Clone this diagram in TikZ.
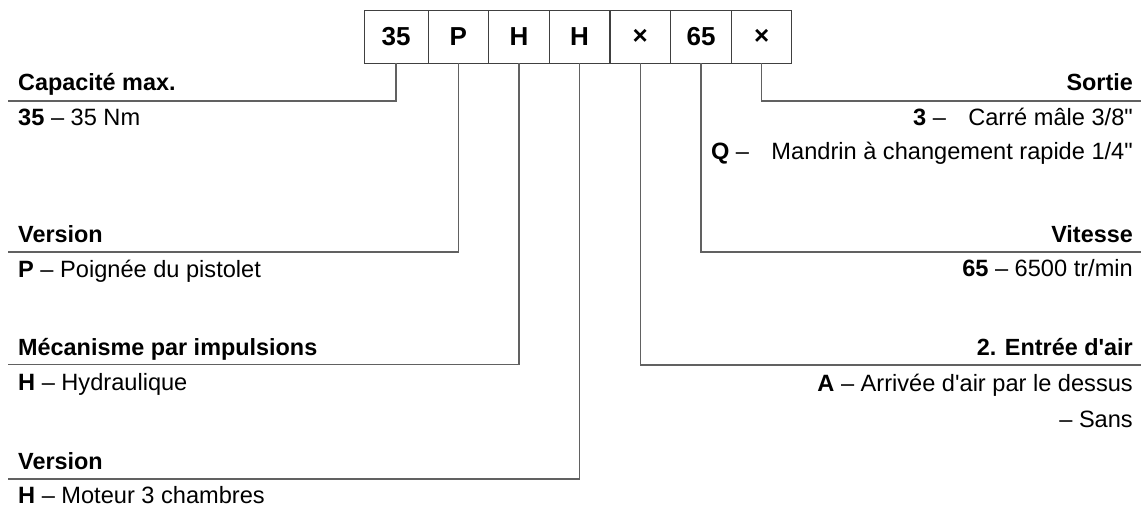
\documentclass[tikz,border=0pt]{standalone}
\usepackage{fontspec}
\setmainfont{Liberation Sans}[Ligatures=TeXOff]
\begin{document}
\begin{tikzpicture}[x=1pt,y=-1pt,
  cell/.style={draw=black!75, line width=0.9pt, minimum height=53pt, minimum width=60.67pt, inner sep=0pt, font=\fontsize{26}{30}\selectfont\bfseries},
  lead/.style={draw=black!62, line width=1.5pt},
  head/.style={font=\fontsize{23.4}{28}\selectfont\bfseries, inner sep=0pt},
  item/.style={font=\fontsize{23.6}{28}\selectfont, inner sep=0pt}]
\useasboundingbox (0,0) rectangle (1145,508);
% code boxes
\node[cell, minimum width=64pt] (b1) at (396,36.5) {35};
\node[cell] (b2) at (458.3,36.5) {P};
\node[cell] (b3) at (519,36.5) {H};
\node[cell] (b4) at (579.6,36.5) {H};
\node[cell] (b5) at (640.3,36.5) {×};
\node[cell] (b6) at (701,36.5) {65};
\node[cell] (b7) at (761.6,36.5) {×};
% line ends
\coordinate (l1) at (8,101);
\coordinate (l2) at (8,252);
\coordinate (l3) at (8,364.5);
\coordinate (l4) at (8,479);
\coordinate (r5) at (1141,365);
\coordinate (r6) at (1141,252);
\coordinate (r7) at (1141,101);
\draw[lead] (b1.south) |- (l1);
\draw[lead] (b2.south) |- (l2);
\draw[lead] (b3.south) |- (l3);
\draw[lead] (b4.south) |- (l4);
\draw[lead] (b5.south) |- (r5);
\draw[lead] (b6.south) |- (r6);
\draw[lead] (b7.south) |- (r7);
% left texts
\node[head, anchor=base west] (h1) at (18,91) {Capacité max.};
\node[item, anchor=base west] (i1) at (18,126) {\textbf{35} – 35 Nm};
\node[head, anchor=base west] (h2) at (18,242) {Version};
\node[item, anchor=base west] (i2) at (18,277) {\textbf{P} – Poignée du pistolet};
\node[head, anchor=base west] (h3) at (18,355) {Mécanisme par impulsions};
\node[item, anchor=base west] (i3) at (18,390) {\textbf{H} – Hydraulique};
\node[head, anchor=base west] (h4) at (18,469) {Version};
\node[item, anchor=base west] (i4) at (18,503) {\textbf{H} – Moteur 3 chambres};
% right texts
\node[head, anchor=base east] (h7) at (1133,91) {Sortie};
\node[item, anchor=base east] (i7a) at (1133,125) {\textbf{3} –\hspace{0.95em}Carré mâle 3/8"};
\node[item, anchor=base east] (i7b) at (1133,159) {\textbf{Q} –\hspace{0.95em}Mandrin à changement rapide 1/4"};
\node[head, anchor=base east] (h6) at (1133,242) {Vitesse};
\node[item, anchor=base east] (i6) at (1133,276) {\textbf{65} – 6500 tr/min};
\node[head, anchor=base east] (h5) at (1133,355) {2. Entrée d'air};
\node[item, anchor=base east] (i5a) at (1133,391) {\textbf{A} – Arrivée d'air par le dessus};
\node[item, anchor=base east] (i5b) at (1133,427) {– Sans};
\end{tikzpicture}
\end{document}
